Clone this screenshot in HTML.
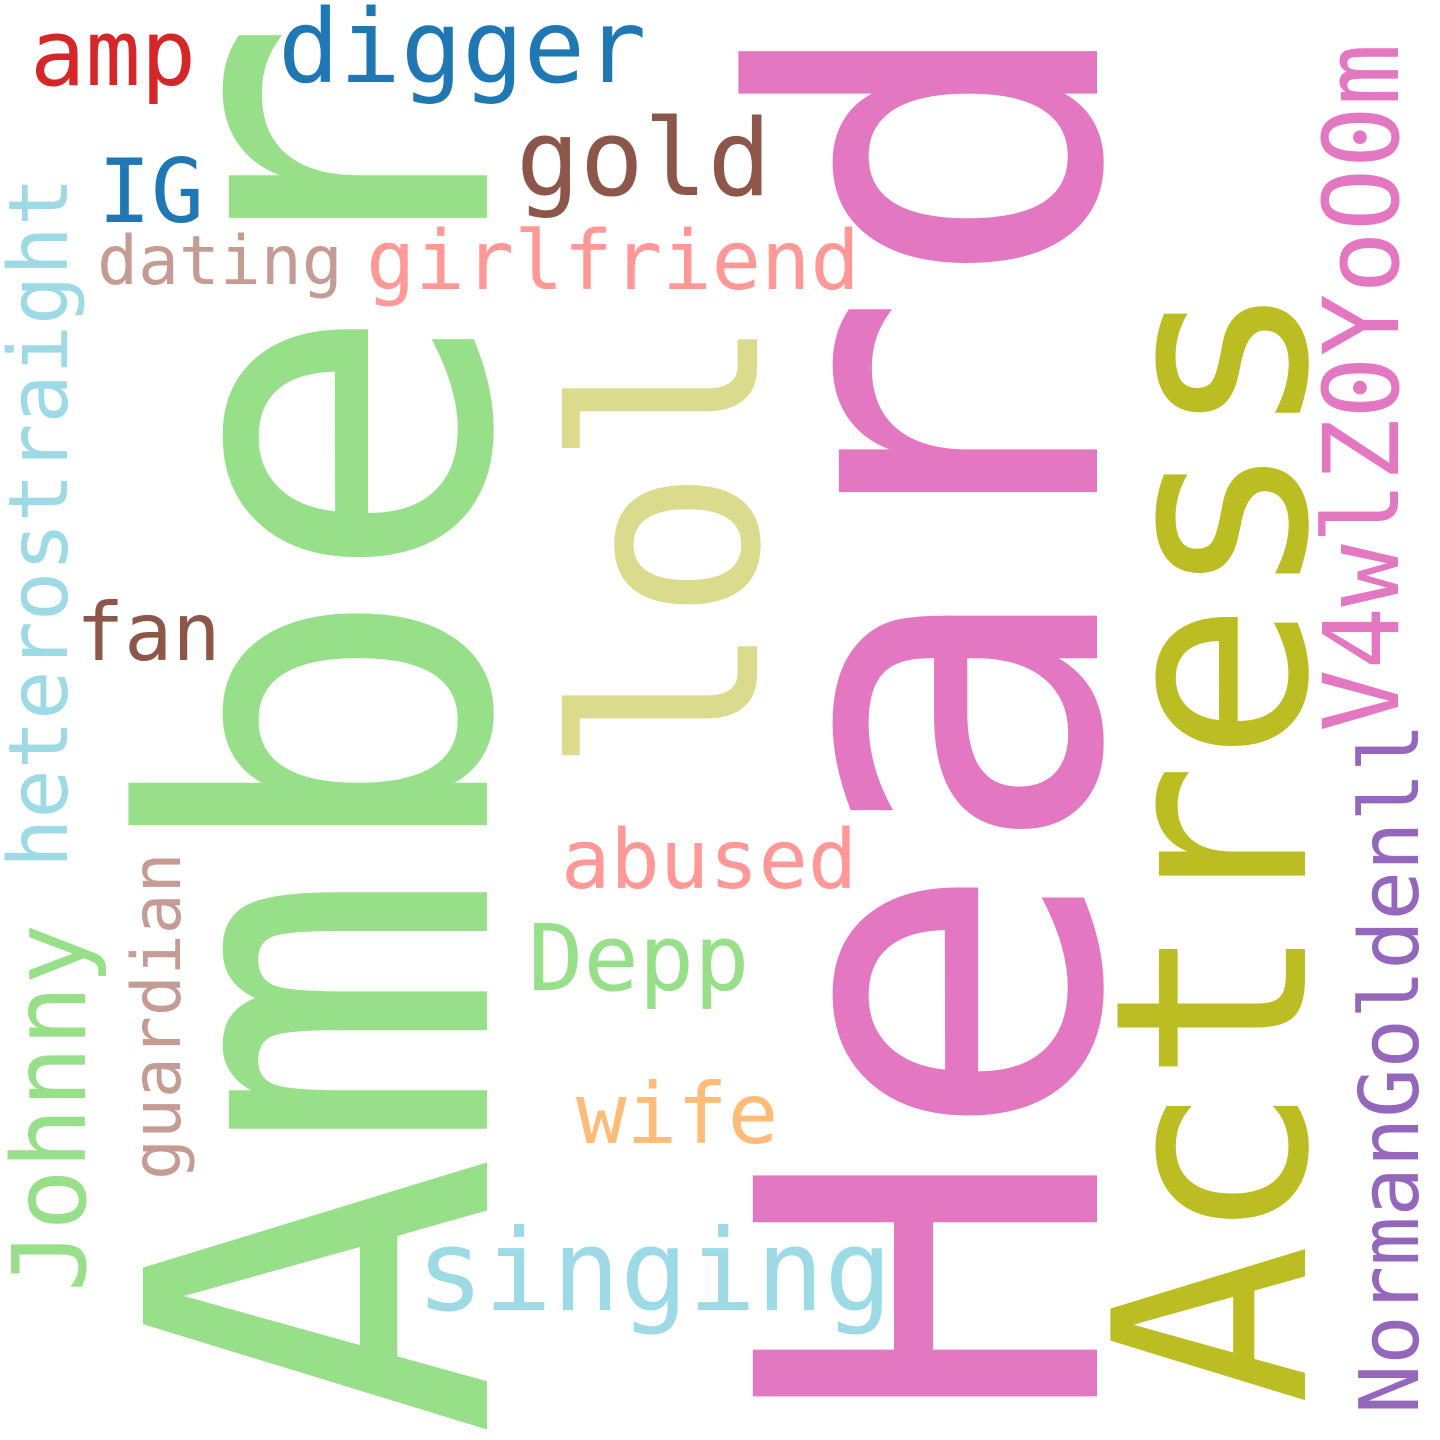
<!DOCTYPE html>
<html><head><meta charset="utf-8"><style>
html,body{margin:0;padding:0;background:#fff;}
svg{display:block;}
text{font-family:"DejaVu Sans Mono","Liberation Mono",monospace;}
</style></head><body>
<svg width="1440" height="1440" viewBox="0 0 1440 1440" xmlns="http://www.w3.org/2000/svg">
<rect width="1440" height="1440" fill="#fff"/>
<text transform="translate(487,1438) rotate(-90)" font-size="472" fill="#98df8a">Amber</text>
<text transform="translate(1097,1428) rotate(-90)" font-size="472" fill="#e377c2">Heard</text>
<text transform="translate(1305,1405) rotate(-90)" font-size="267" fill="#bcbd22">Actress</text>
<text transform="translate(757,775) rotate(-90)" font-size="255" fill="#dbdb8d">lol</text>
<text transform="translate(1398,732) rotate(-90)" font-size="104" fill="#e377c2">V4wlZ0YoO0m</text>
<text transform="translate(1418,1414) rotate(-90)" font-size="82" fill="#9467bd">NormanGoldenll</text>
<text transform="translate(67,868) rotate(-90)" font-size="82" fill="#9edae5">heterostraight</text>
<text transform="translate(85,1292) rotate(-90)" font-size="102" fill="#98df8a">Johnny</text>
<text transform="translate(180,1180) rotate(-90)" font-size="68" fill="#c49c94">guardian</text>
<text x="30" y="85" font-size="92" fill="#d62728">amp</text>
<text x="278" y="82" font-size="102" fill="#1f77b4">digger</text>
<text x="98" y="222" font-size="88" fill="#1f77b4">IG</text>
<text x="516" y="195" font-size="106" fill="#8c564b">gold</text>
<text x="97" y="284" font-size="68" fill="#c49c94">dating</text>
<text x="366" y="289" font-size="82" fill="#ff9896">girlfriend</text>
<text x="76" y="660" font-size="80" fill="#8c564b">fan</text>
<text x="561" y="888" font-size="82" fill="#ff9896">abused</text>
<text x="528" y="990" font-size="92" fill="#98df8a">Depp</text>
<text x="576" y="1143" font-size="84" fill="#ffbb78">wife</text>
<text x="416" y="1310" font-size="113" fill="#9edae5">singing</text>
</svg>
</body></html>
